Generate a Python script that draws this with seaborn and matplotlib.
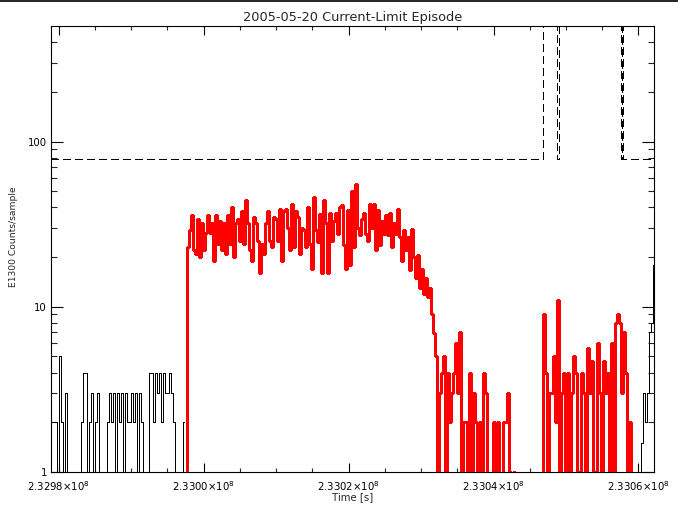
import numpy as np
import pandas as pd
import matplotlib
matplotlib.use("Agg")
import matplotlib.pyplot as plt
import seaborn as sns
from matplotlib.ticker import MultipleLocator, FixedLocator, FuncFormatter, NullFormatter
from matplotlib.lines import Line2D

# ---------------- data ----------------
t_start = 232979100.0   # time of first sample [s]
t_step = 276.0          # sample spacing [s]

# counts/sample before the episode (black)
black_start_counts = [
    2, 2, 2, 0, 5, 2, 0, 3, 0, 0, 0, 0, 0, 0, 0, 2, 4, 4, 0, 2,
    3, 0, 2, 3, 0, 0, 0, 0, 2, 3, 2, 3, 0, 3, 2, 3, 0, 3, 2, 2,
    3, 2, 3, 0, 3, 2, 0, 1, 0, 4, 4, 2, 4, 3, 4, 2, 4, 3, 3, 4,
    3, 2, 0, 0, 0, 0, 2,
]

# counts/sample during the current-limit episode (red)
red_counts = [
    0,
    23, 29, 36, 22, 21, 34, 20, 32, 22, 28,
    36, 28, 32, 19, 36, 24, 33, 22, 32, 21,
    36, 24, 40, 20, 32, 34, 25, 38, 24, 44,
    32, 22, 19, 35, 32, 25, 16, 24, 21, 32,
    38, 25, 23, 35, 34, 25, 39, 19, 38, 39,
    30, 22, 42, 23, 38, 35, 21, 30, 29, 23,
    40, 24,
    17, 46, 29, 24.5, 36.5, 16, 44, 32, 16, 37,
    25, 33, 37, 27.5, 40, 41, 23.5, 17, 38.5, 18,
    50, 23, 55, 30, 27, 34, 37, 27.5, 25, 42,
    30, 42, 22, 38.5, 23.5, 33, 27.5, 36, 27, 37,
    23, 32, 27.5, 39, 26.4, 19, 29, 22, 26.4, 16.6,
    29.5, 20, 15, 20.5, 13, 17, 12, 15, 11.5, 13,
    9, 6.9, 5, 0, 3, 4, 5, 0, 4, 2,
    3, 4, 6, 3, 7, 0, 2, 2, 0, 4,
    0, 3, 2, 0, 2, 0, 4, 3, 0, 0,
    0, 2, 0, 2, 0, 0, 2, 2, 3, 1,
    0, 1,
    0, 0, 0, 0, 0, 0, 0, 0, 0, 0, 0, 0, 0,
    0,
    9, 4, 0, 3, 3, 5, 2, 11, 0, 3,
    4, 0, 4, 0, 3, 5, 4, 1, 0, 4,
    3, 0, 5.6, 3, 4.7, 1, 0, 6, 3, 0,
    4.7, 3, 4, 0, 6, 1, 8, 9, 8, 3,
    7, 4, 0, 2, 0,
]

# counts/sample after the episode (black)
black_end_counts = [0, 0, 0, 0, 1.5, 3, 2, 3, 7, 8, 18]

# current-limit threshold (dashed)
limit_times = [232978900, 233046868, 233048716, 233049075,
               233057544, 233057682, 233057820, 233062100]
limit_values = [78, 5000, 78, 5000, 78, 5000, 78, 78]

x_range = (232978900, 233062100)
y_range = (1, 500)
x_major_step = 20000
x_minor_step = 5000
y_major_ticks = [1, 10, 100]
y_major_labels = ["1", "10", "100"]
y_minor_ticks = [2, 3, 4, 5, 6, 7, 8, 9, 20, 30, 40, 50, 60, 70, 80, 90,
                 200, 300, 400]
title_text = "2005-05-20 Current-Limit Episode"
x_label = "Time [s]"
y_label = "E1300 Counts/sample"

# ---------------- build tables ----------------
counts = black_start_counts + red_counts + black_end_counts
times = t_start + t_step * np.arange(len(counts))
n1 = len(black_start_counts)
n2 = n1 + len(red_counts)
df_black1 = pd.DataFrame({"t": times[:n1], "c": counts[:n1]})
df_red = pd.DataFrame({"t": times[n1:n2], "c": counts[n1:n2]})
df_black2 = pd.DataFrame({"t": times[n2 - 1:], "c": counts[n2 - 1:]})
df_limit = pd.DataFrame({"t": limit_times, "c": limit_values})

# ---------------- style ----------------
sns.set_style("ticks")
plt.rcParams["font.family"] = ["DejaVu Sans"]
plt.rcParams["axes.linewidth"] = 0.8

fig = plt.figure(figsize=(6.78, 5.11), dpi=100)
W, H = 678, 511
ax = fig.add_axes([50.6 / W, (H - 472) / H, 603.1 / W, 446 / H])

sns.lineplot(data=df_black1, x="t", y="c", ax=ax, color="black",
             estimator=None, drawstyle="steps-mid")
sns.lineplot(data=df_red, x="t", y="c", ax=ax, color="#ff0000",
             estimator=None, drawstyle="steps-mid")
sns.lineplot(data=df_black2, x="t", y="c", ax=ax, color="black",
             estimator=None, drawstyle="steps-mid")
sns.lineplot(data=df_limit, x="t", y="c", ax=ax, color="black",
             estimator=None, drawstyle="steps-post")
for ln in ax.lines:
    ln.set_antialiased(False)
    ln.set_linewidth(0.72)
red_line = ax.lines[1]
red_line.set_color("#ff0000")
red_line.set_linewidth(1.0)
ax.lines[-1].set_linestyle((0, (8, 4.5)))

ax.set_yscale("log")
ax.set_xlim(*x_range)
ax.set_ylim(*y_range)

# x ticks
ax.xaxis.set_major_locator(MultipleLocator(x_major_step))
ax.xaxis.set_minor_locator(MultipleLocator(x_minor_step))
ax.xaxis.set_major_formatter(FuncFormatter(
    lambda v, p: r"$\mathregular{%.4f{\times}10^{8}}$" % (v / 1e8)))
# y ticks
ax.yaxis.set_major_locator(FixedLocator(y_major_ticks))
ax.yaxis.set_major_formatter(FuncFormatter(
    lambda v, p: y_major_labels[y_major_ticks.index(int(round(v)))]
    if int(round(v)) in y_major_ticks else ""))
ax.yaxis.set_minor_locator(FixedLocator(y_minor_ticks))
ax.yaxis.set_minor_formatter(NullFormatter())

ax.tick_params(axis="x", which="major", direction="in", length=6.5, width=0.8,
               top=True, bottom=True, pad=5.5, labelsize=7.3, colors="black")
ax.tick_params(axis="x", which="minor", direction="in", length=3.2, width=0.8,
               top=True, bottom=True)
ax.tick_params(axis="y", which="major", direction="in", length=8.7, width=0.8,
               left=True, right=True, pad=2.6, labelsize=7.3, colors="black")
ax.tick_params(axis="y", which="minor", direction="in", length=4.3, width=0.8,
               left=True, right=True)

for s in ax.spines.values():
    s.set_visible(True)
    s.set_color("black")
    s.set_linewidth(0.8)

ax.set_title(title_text, fontsize=9.3, pad=3.5)
ax.set_xlabel(x_label, fontsize=7.3, va="center")
ax.xaxis.set_label_coords(0.5, -(497 - 472) / 446)
ax.set_ylabel(y_label, fontsize=6.6, va="center")
ax.yaxis.set_label_coords((14 - 50.6) / 603.1, (472 - 237) / 446)

# thin black rule along the top edge of the image
fig.add_artist(Line2D([0, 1], [1 - 0.8 / H, 1 - 0.8 / H], transform=fig.transFigure,
                      color="black", lw=1.2))

fig.savefig("out.png", dpi=100, facecolor="white")
